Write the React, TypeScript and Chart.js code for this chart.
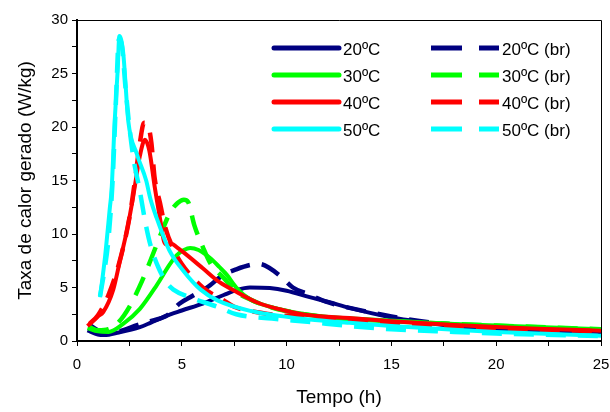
import { useEffect, useRef } from "react";
import { Chart, registerables } from "chart.js";

Chart.register(...registerables);

const FONT = "'Liberation Sans', Arial, Helvetica, sans-serif";

// Time (h) and heat generation rate (W/kg)
const t20 = [0.5, 1, 1.3, 2, 3, 3.5, 4.2, 5, 6, 7, 7.6, 8.25, 9.2, 10, 11.1, 12, 13, 14.9, 16, 17.5, 19.2, 22, 25];
const q20 = [1.0, 0.6, 0.55, 0.8, 1.3, 1.7, 2.3, 2.85, 3.5, 4.3, 4.75, 5.0, 4.95, 4.7, 4.1, 3.65, 3.1, 2.25, 1.9, 1.5, 1.2, 1.0, 0.85];

const t20br = [0.6, 1, 1.5, 2, 2.9, 3.6, 4.3, 4.9, 5.5, 6.2, 7, 7.6, 8.25, 8.7, 9.2, 9.8, 10.3, 11, 12, 13, 15, 17, 20, 25];
const q20br = [1.5, 1.0, 0.8, 0.9, 1.5, 1.9, 2.4, 3.5, 4.2, 5.0, 6.2, 6.7, 7.1, 7.2, 6.8, 5.9, 5.0, 4.4, 3.6, 3.1, 2.3, 1.7, 1.3, 0.9];

const t30 = [0.5, 1, 1.5, 2.2, 3, 3.8, 4.44, 4.75, 5.1, 5.4, 5.8, 6.35, 6.8, 7.14, 7.6, 8.25, 9.2, 10, 11.1, 12, 14, 16, 18, 20, 22, 25];
const q30 = [1.2, 0.9, 0.85, 1.6, 3.0, 5.2, 7.2, 8.0, 8.5, 8.7, 8.5, 7.75, 6.9, 6.2, 5.0, 3.9, 3.2, 2.8, 2.45, 2.25, 2.0, 1.8, 1.6, 1.45, 1.3, 1.1];

const t30br = [0.6, 1, 1.5, 2, 2.5, 3.1, 3.64, 4, 4.44, 4.8, 5.1, 5.3, 5.6, 6.0, 6.35, 7.0, 7.6, 8.25, 9, 10, 12, 15, 20, 25];
const q30br = [1.3, 1.0, 1.1, 1.8, 3.2, 5.6, 8.2, 10.0, 12.0, 12.9, 13.2, 13.0, 10.8, 8.8, 7.3, 5.9, 4.6, 3.9, 3.3, 2.8, 2.2, 1.85, 1.45, 1.1];

const t40 = [0.5, 1, 1.25, 1.73, 2.05, 2.39, 2.68, 3.0, 3.24, 3.45, 3.7, 4.0, 4.15, 4.3, 4.5, 4.8, 5.07, 6.0, 6.8, 7.6, 8.6, 9.8, 11.1, 13, 15, 18, 20, 22, 25];
const q40 = [1.4, 2.3, 2.7, 4.8, 7.5, 10.4, 13.5, 17.3, 18.8, 17.8, 14.5, 11.0, 9.3, 9.0, 9.1, 8.7, 8.3, 6.8, 5.5, 4.6, 3.6, 2.9, 2.4, 2.15, 1.85, 1.5, 1.3, 1.15, 0.95];

const t40br = [0.6, 1, 1.5, 2, 2.5, 2.8, 3.0, 3.2, 3.4, 3.55, 3.7, 3.96, 4.2, 4.6, 5, 6, 7, 7.5, 8.9, 10, 11, 12, 15, 20, 25];
const q40br = [1.6, 2.4, 4.3, 7.2, 11.5, 15.5, 18.5, 20.4, 20.1, 18.5, 15.3, 12.9, 10.7, 8.6, 7.2, 5.0, 3.8, 3.2, 2.6, 2.35, 2.25, 2.0, 1.6, 1.2, 0.9];

const t50 = [1.1, 1.34, 1.57, 1.65, 1.8, 1.94, 2.02, 2.2, 2.45, 2.85, 3.3, 3.5, 3.8, 4.4, 5.1, 5.9, 6.7, 8.3, 9.84, 11.1, 13, 15, 18, 20, 22, 25];
const q50 = [4.1, 7.9, 12.5, 14.1, 20.6, 25.3, 28.5, 27, 20.5, 17.5, 15, 13.3, 11.5, 8.5, 6.5, 4.8, 3.8, 2.8, 2.3, 2.0, 1.7, 1.4, 1.05, 0.85, 0.7, 0.5];

const t50br = [1.1, 1.3, 1.5, 1.7, 1.85, 2.0, 2.15, 2.3, 2.5, 2.7, 3.0, 3.24, 3.5, 3.9, 4.3, 4.6, 5.5, 6.7, 7.6, 9.3, 11, 13, 15, 18, 20, 25];
const q50br = [4.2, 6.5, 9.5, 15, 22, 28.2, 27.5, 24, 20, 17, 14, 11.3, 9.0, 6.8, 5.4, 4.8, 4.0, 3.2, 2.5, 2.1, 1.8, 1.4, 1.1, 0.85, 0.7, 0.45];

const labels = ["20ºC", "30ºC", "40ºC", "50ºC"];
const labelsBr = ["20ºC (br)", "30ºC (br)", "40ºC (br)", "50ºC (br)"];
const colors = ["#000080", "#00FF00", "#FF0000", "#00FFFF"];

const xTitle = "Tempo (h)";
const yTitle = "Taxa de calor gerado (W/kg)";

const DASH = [20, 12];

const pts = (t: number[], q: number[]) => t.map((x, i) => ({ x, y: q[i] }));

const solidSeries = [pts(t20, q20), pts(t30, q30), pts(t40, q40), pts(t50, q50)];
const dashSeries = [pts(t20br, q20br), pts(t30br, q30br), pts(t40br, q40br), pts(t50br, q50br)];

const framePlugin = {
  id: "frameLegend",
  afterDraw(chart: any) {
    const { ctx, chartArea } = chart;
    const { left, right, top, bottom } = chartArea;
    ctx.save();
    ctx.strokeStyle = "#000";
    ctx.lineWidth = 1;
    ctx.beginPath();
    ctx.moveTo(left, top + 0.5);
    ctx.lineTo(right + 0.5, top + 0.5);
    ctx.lineTo(right + 0.5, bottom);
    ctx.stroke();

    const rowY = [48, 75, 102, 129];
    ctx.font = `17px ${FONT}`;
    ctx.textBaseline = "middle";
    ctx.textAlign = "left";
    for (let i = 0; i < 4; i++) {
      const y = rowY[i];
      ctx.strokeStyle = colors[i];
      ctx.lineWidth = 5;
      ctx.lineCap = "round";
      ctx.setLineDash([]);
      ctx.beginPath();
      ctx.moveTo(274, y);
      ctx.lineTo(339, y);
      ctx.stroke();
      ctx.fillStyle = "#000";
      ctx.fillText(labels[i], 343, y + 2);

      ctx.lineCap = "butt";
      ctx.lineWidth = 5;
      ctx.setLineDash([31, 17]);
      ctx.beginPath();
      ctx.moveTo(431, y);
      ctx.lineTo(499, y);
      ctx.stroke();
      ctx.setLineDash([]);
      ctx.fillText(labelsBr[i], 502, y + 2);
    }
    ctx.restore();
  },
};

export default function App() {
  const ref = useRef<HTMLCanvasElement>(null);
  useEffect(() => {
    document.body.style.margin = "0";
    const datasets: any[] = [];
    for (let i = 0; i < 4; i++) {
      datasets.push({
        label: labels[i],
        data: solidSeries[i],
        borderColor: colors[i],
        backgroundColor: colors[i],
        borderWidth: 4,
        pointRadius: 0,
        cubicInterpolationMode: "monotone",
        fill: false,
        order: 10 - 2 * i,
      });
      datasets.push({
        label: labelsBr[i],
        data: dashSeries[i],
        borderColor: colors[i],
        backgroundColor: colors[i],
        borderWidth: 4.5,
        borderDash: DASH,
        pointRadius: 0,
        cubicInterpolationMode: "monotone",
        fill: false,
        order: 9 - 2 * i,
      });
    }
    const chart = new Chart(ref.current!, {
      type: "line",
      data: { datasets },
      options: {
        animation: false,
        responsive: false,
        layout: { padding: { top: 20, right: 9, left: 0, bottom: 0 } },
        plugins: { legend: { display: false }, tooltip: { enabled: false } },
        scales: {
          x: {
            type: "linear",
            min: 0,
            max: 25,
            afterFit: (s: any) => {
              s.height = 71;
              s.paddingLeft = 0;
              s.paddingRight = 0;
            },
            ticks: {
              stepSize: 2.5,
              autoSkip: false,
              maxRotation: 0,
              color: "#000",
              font: { family: FONT, size: 15 },
              padding: 10,
              callback: (v: any) => (Number(v) % 5 === 0 ? String(v) : ""),
            },
            grid: { drawOnChartArea: false, drawTicks: true, tickLength: 5, color: "#000", lineWidth: 1 },
            border: { display: true, color: "#000", width: 2 },
            title: {
              display: true,
              text: xTitle,
              color: "#000",
              font: { family: FONT, size: 19 },
              padding: { top: 0, bottom: 3 },
            },
          },
          y: {
            type: "linear",
            min: 0,
            max: 30,
            afterFit: (s: any) => {
              s.width = 77;
              s.paddingTop = 0;
              s.paddingBottom = 0;
            },
            ticks: {
              stepSize: 2.5,
              autoSkip: false,
              color: "#000",
              font: { family: FONT, size: 15 },
              padding: 4,
              callback: (v: any) => (Number(v) % 5 === 0 ? String(v) : ""),
            },
            grid: { drawOnChartArea: false, drawTicks: true, tickLength: 5, color: "#000", lineWidth: 1 },
            border: { display: true, color: "#000", width: 2 },
            title: {
              display: true,
              text: yTitle,
              color: "#000",
              font: { family: FONT, size: 19 },
              padding: { top: 14, bottom: 0 },
            },
          },
        },
      },
      plugins: [framePlugin],
    });
    return () => chart.destroy();
  }, []);
  return (
    <div style={{ width: 610, height: 412 }}>
      <canvas ref={ref} width={610} height={412} style={{ display: "block" }} />
    </div>
  );
}
